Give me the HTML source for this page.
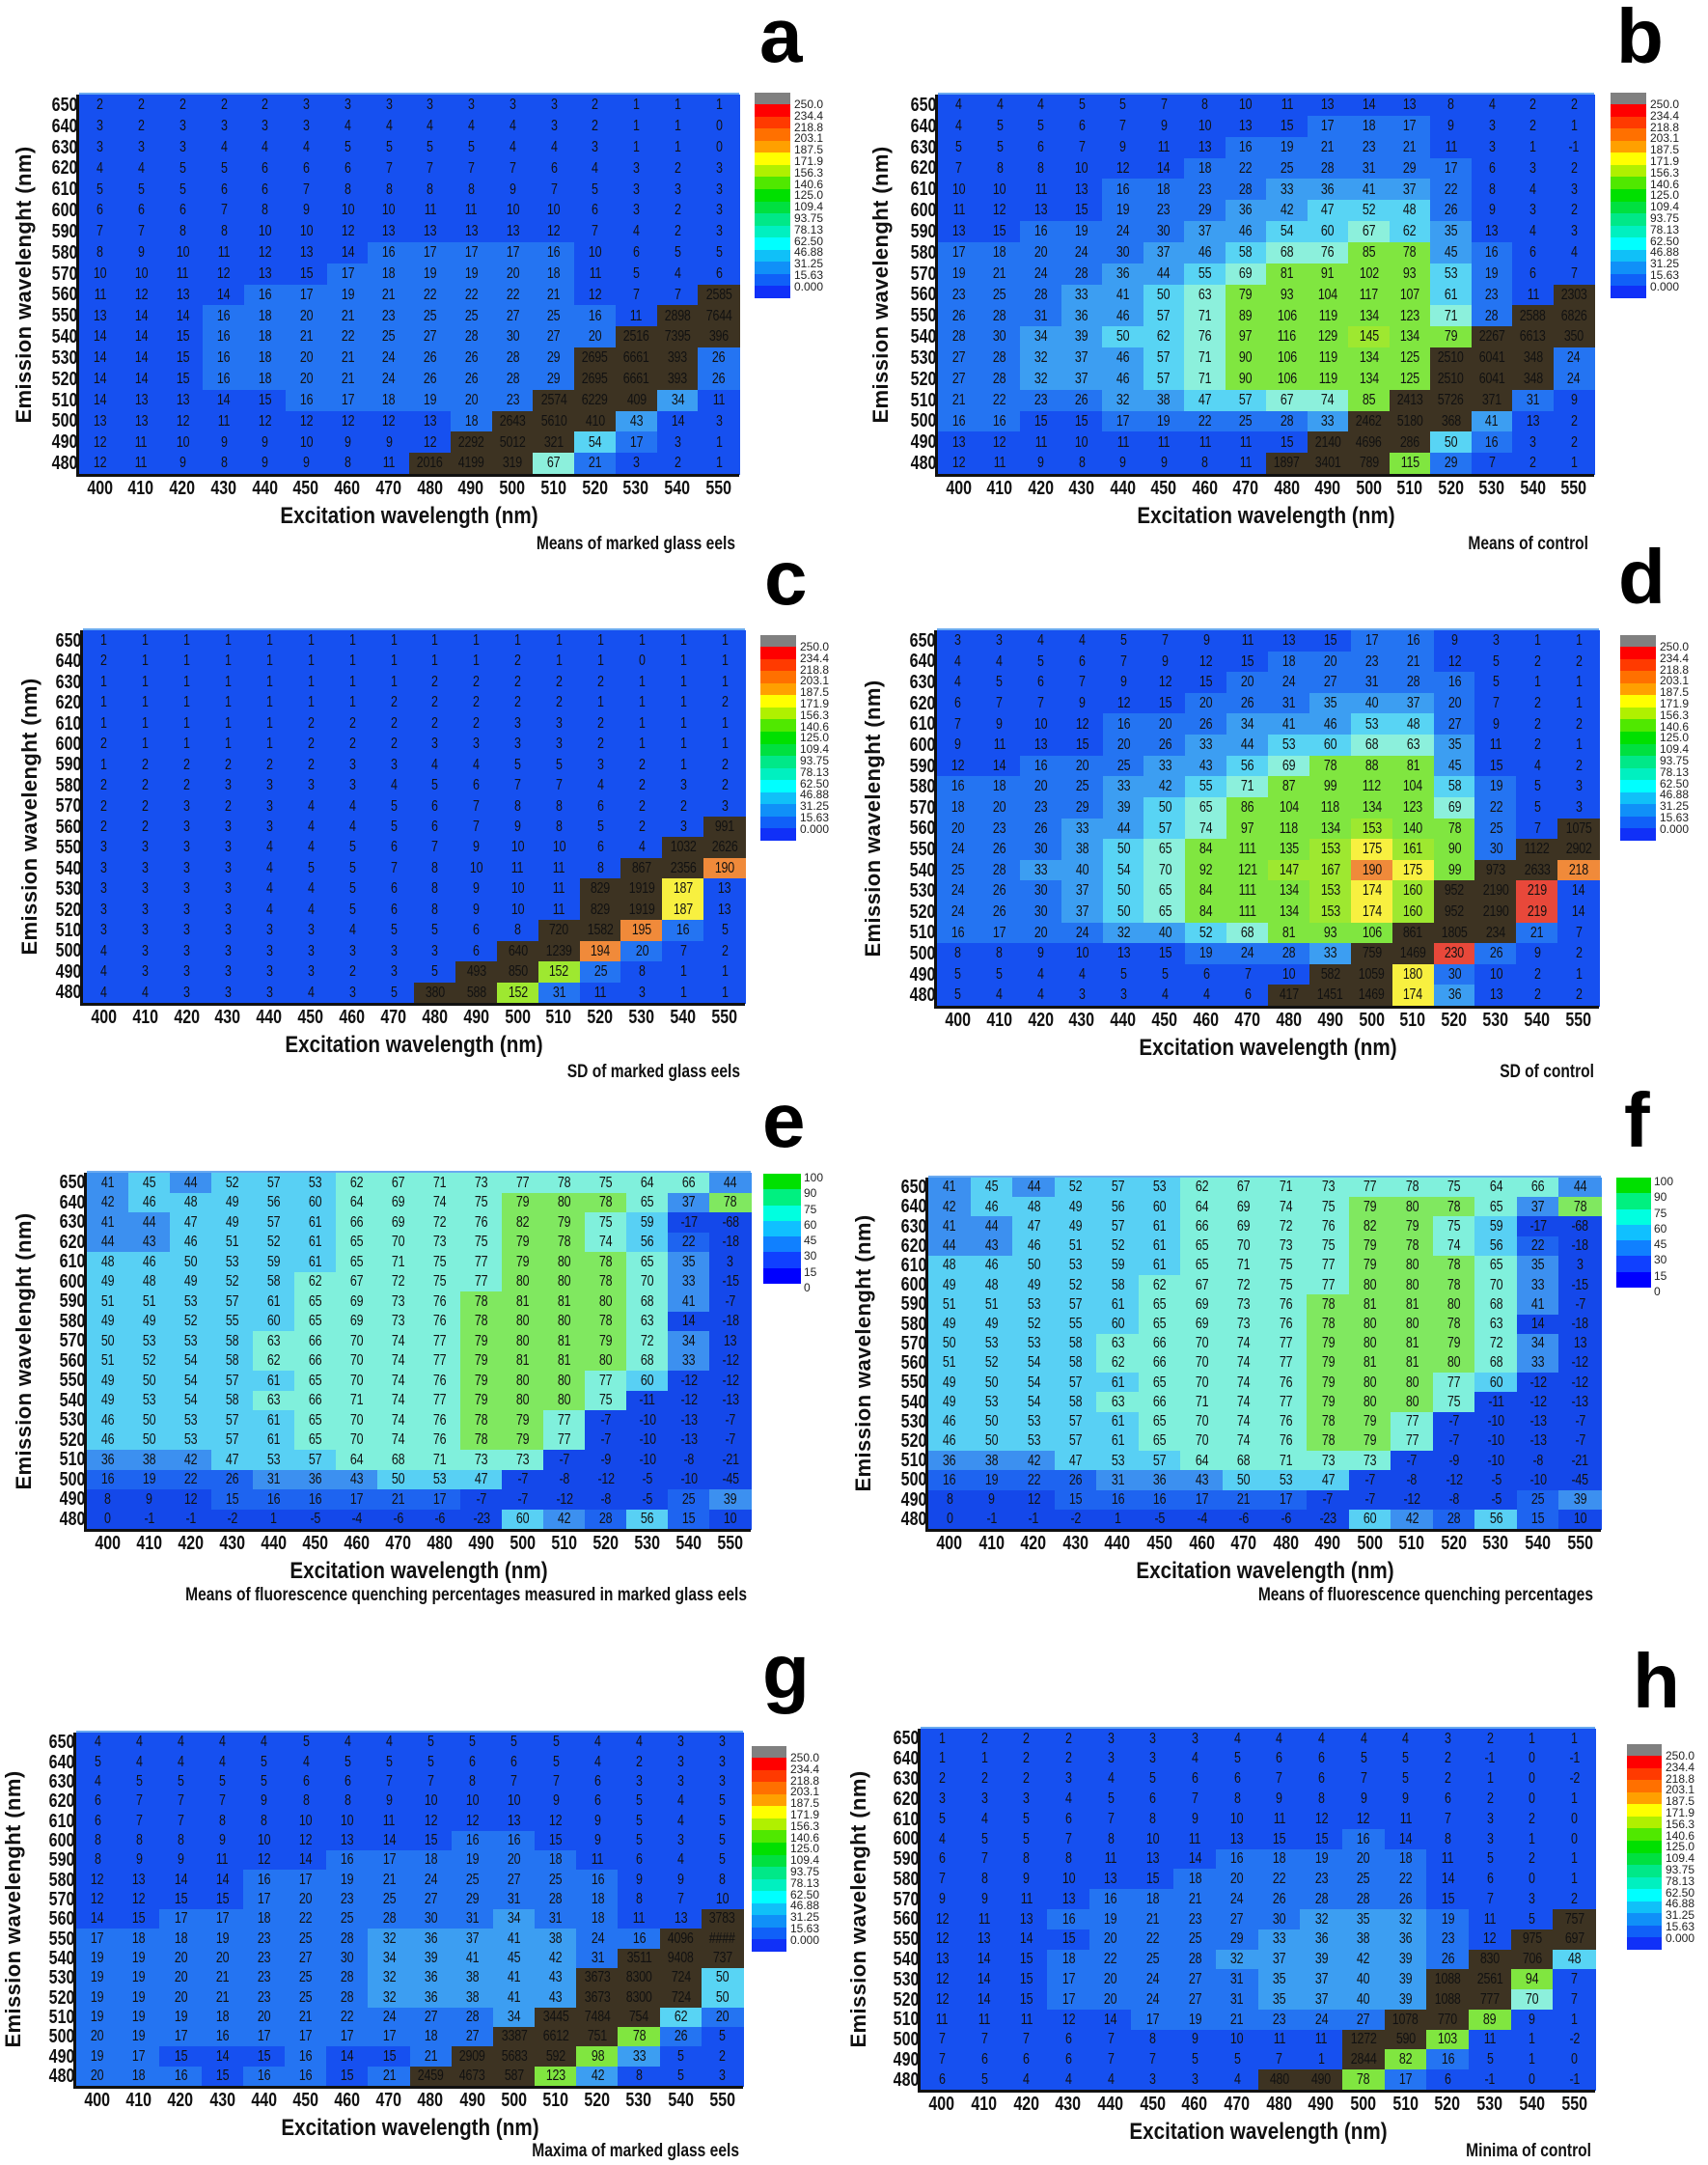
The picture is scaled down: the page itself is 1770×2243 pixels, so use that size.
<!DOCTYPE html>
<html><head><meta charset="utf-8">
<style>
html,body{margin:0;padding:0;background:#fff;}
body{width:1770px;height:2243px;position:relative;overflow:hidden;font-family:"Liberation Sans",sans-serif;}
.a{position:absolute;}
.cell{position:absolute;display:flex;align-items:center;justify-content:center;font-size:16px;color:#111;}
.cell span{display:inline-block;transform:scaleX(0.78);letter-spacing:-0.3px;}
.tk{position:absolute;font-weight:bold;font-size:20px;color:#111;}
.tk span{display:inline-block;transform:scaleX(0.8);}
.lt{position:absolute;font-weight:bold;font-size:80px;line-height:80px;color:#000;}
.ttl{position:absolute;font-weight:bold;font-size:24px;color:#111;white-space:nowrap;}
.cap{position:absolute;font-weight:bold;font-size:19px;color:#111;white-space:nowrap;transform:scaleX(0.82);transform-origin:right center;}
.cbl{position:absolute;font-size:12px;color:#222;line-height:12px;}
</style></head><body>
<script>
var P=[
{L:'a',hm:[82,98,766,491],cb:[782,96,37,213],lx:787,lb:65,cap:'Means of marked glass eels',cy:564,cr:762,yt:-57,q:0,d:`
2 2 2 2 2 3 3 3 3 3 3 3 2 1 1 1
3 2 3 3 3 3 4 4 4 4 4 3 2 1 1 0
3 3 3 4 4 4 5 5 5 5 4 4 3 1 1 0
4 4 5 5 6 6 6 7 7 7 7 6 4 3 2 3
5 5 5 6 6 7 8 8 8 8 9 7 5 3 3 3
6 6 6 7 8 9 10 10 11 11 10 10 6 3 2 3
7 7 8 8 10 10 12 13 13 13 13 12 7 4 2 3
8 9 10 11 12 13 14 16 17 17 17 16 10 6 5 5
10 10 11 12 13 15 17 18 19 19 20 18 11 5 4 6
11 12 13 14 16 17 19 21 22 22 22 21 12 7 7 2585
13 14 14 16 18 20 21 23 25 25 27 25 16 11 2898 7644
14 14 15 16 18 21 22 25 27 28 30 27 20 2516 7395 396
14 14 15 16 18 20 21 24 26 26 28 29 2695 6661 393 26
14 14 15 16 18 20 21 24 26 26 28 29 2695 6661 393 26
14 13 13 14 15 16 17 18 19 20 23 2574 6229 409 34 11
13 13 12 11 12 12 12 12 13 18 2643 5610 410 43 14 3
12 11 10 9 9 10 9 9 12 2292 5012 321 54 17 3 1
12 11 9 8 9 9 8 11 2016 4199 319 67 21 3 2 1`},
{L:'b',hm:[972,98,1652,491],cb:[1669,96,37,213],lx:1675,lb:66,cap:'Means of control',cy:564,cr:1646,yt:-59,q:0,d:`
4 4 4 5 5 7 8 10 11 13 14 13 8 4 2 2
4 5 5 6 7 9 10 13 15 17 18 17 9 3 2 1
5 5 6 7 9 11 13 16 19 21 23 21 11 3 1 -1
7 8 8 10 12 14 18 22 25 28 31 29 17 6 3 2
10 10 11 13 16 18 23 28 33 36 41 37 22 8 4 3
11 12 13 15 19 23 29 36 42 47 52 48 26 9 3 2
13 15 16 19 24 30 37 46 54 60 67 62 35 13 4 3
17 18 20 24 30 37 46 58 68 76 85 78 45 16 6 4
19 21 24 28 36 44 55 69 81 91 102 93 53 19 6 7
23 25 28 33 41 50 63 79 93 104 117 107 61 23 11 2303
26 28 31 36 46 57 71 89 106 119 134 123 71 28 2588 6826
28 30 34 39 50 62 76 97 116 129 145 134 79 2267 6613 350
27 28 32 37 46 57 71 90 106 119 134 125 2510 6041 348 24
27 28 32 37 46 57 71 90 106 119 134 125 2510 6041 348 24
21 22 23 26 32 38 47 57 67 74 85 2413 5726 371 31 9
16 16 15 15 17 19 22 25 28 33 2462 5180 368 41 13 2
13 12 11 10 11 11 11 11 15 2140 4696 286 50 16 3 2
12 11 9 8 9 9 8 11 1897 3401 789 115 29 7 2 1`},
{L:'c',hm:[86,653,772,1039],cb:[788,658,37,213],lx:792,lb:627,cap:'SD of marked glass eels',cy:1111,cr:767,yt:-55,q:0,d:`
1 1 1 1 1 1 1 1 1 1 1 1 1 1 1 1
2 1 1 1 1 1 1 1 1 1 2 1 1 0 1 1
1 1 1 1 1 1 1 1 2 2 2 2 2 1 1 1
1 1 1 1 1 1 1 2 2 2 2 2 1 1 1 2
1 1 1 1 1 2 2 2 2 2 3 3 2 1 1 1
2 1 1 1 1 2 2 2 3 3 3 3 2 1 1 1
1 2 2 2 2 2 3 3 4 4 5 5 3 2 1 2
2 2 2 3 3 3 3 4 5 6 7 7 4 2 3 2
2 2 3 2 3 4 4 5 6 7 8 8 6 2 2 3
2 2 3 3 3 4 4 5 6 7 9 8 5 2 3 991
3 3 3 3 4 4 5 6 7 9 10 10 6 4 1032 2626
3 3 3 3 4 5 5 7 8 10 11 11 8 867 2356 190
3 3 3 3 4 4 5 6 8 9 10 11 829 1919 187 13
3 3 3 3 4 4 5 6 8 9 10 11 829 1919 187 13
3 3 3 3 3 3 4 5 5 6 8 720 1582 195 16 5
4 3 3 3 3 3 3 3 3 6 640 1239 194 20 7 2
4 3 3 3 3 3 2 3 5 493 850 152 25 8 1 1
4 4 3 3 3 4 3 5 380 588 152 31 11 3 1 1`},
{L:'d',hm:[971,653,1657,1042],cb:[1679,658,37,213],lx:1677,lb:626,cap:'SD of control',cy:1111,cr:1652,yt:-66,q:0,d:`
3 3 4 4 5 7 9 11 13 15 17 16 9 3 1 1
4 4 5 6 7 9 12 15 18 20 23 21 12 5 2 2
4 5 6 7 9 12 15 20 24 27 31 28 16 5 1 1
6 7 7 9 12 15 20 26 31 35 40 37 20 7 2 1
7 9 10 12 16 20 26 34 41 46 53 48 27 9 2 2
9 11 13 15 20 26 33 44 53 60 68 63 35 11 2 1
12 14 16 20 25 33 43 56 69 78 88 81 45 15 4 2
16 18 20 25 33 42 55 71 87 99 112 104 58 19 5 3
18 20 23 29 39 50 65 86 104 118 134 123 69 22 5 3
20 23 26 33 44 57 74 97 118 134 153 140 78 25 7 1075
24 26 30 38 50 65 84 111 135 153 175 161 90 30 1122 2902
25 28 33 40 54 70 92 121 147 167 190 175 99 973 2633 218
24 26 30 37 50 65 84 111 134 153 174 160 952 2190 219 14
24 26 30 37 50 65 84 111 134 153 174 160 952 2190 219 14
16 17 20 24 32 40 52 68 81 93 106 861 1805 234 21 7
8 8 9 10 13 15 19 24 28 33 759 1469 230 26 9 2
5 5 4 4 5 5 6 7 10 582 1059 180 30 10 2 1
5 4 4 3 3 4 4 6 417 1451 1469 174 36 13 2 2`},
{L:'e',hm:[90,1215,778,1584],cb:[791,1216,39,114],lx:790,lb:1189,cap:'Means of fluorescence quenching percentages measured in marked glass eels',cy:1653,cr:774,yt:-65,q:1,d:'Q'},
{L:'f',hm:[962,1220,1659,1584],cb:[1675,1220,36,114],lx:1683,lb:1189,cap:'Means of fluorescence quenching percentages',cy:1653,cr:1651,yt:-67,q:1,d:'Q'},
{L:'g',hm:[79,1795,770,2161],cb:[779,1809,36,213],lx:790,lb:1760,cap:'Maxima of marked glass eels',cy:2229,cr:766,yt:-65,q:0,d:`
4 4 4 4 4 5 4 4 5 5 5 5 4 4 3 3
5 4 4 4 5 4 5 5 5 6 6 5 4 2 3 3
4 5 5 5 5 6 6 7 7 8 7 7 6 3 3 3
6 7 7 7 9 8 8 9 10 10 10 9 6 5 4 5
6 7 7 8 8 10 10 11 12 12 13 12 9 5 4 5
8 8 8 9 10 12 13 14 15 16 16 15 9 5 3 5
8 9 9 11 12 14 16 17 18 19 20 18 11 6 4 5
12 13 14 14 16 17 19 21 24 25 27 25 16 9 9 8
12 12 15 15 17 20 23 25 27 29 31 28 18 8 7 10
14 15 17 17 18 22 25 28 30 31 34 31 18 11 13 3783
17 18 18 19 23 25 28 32 36 37 41 38 24 16 4096 ####
19 19 20 20 23 27 30 34 39 41 45 42 31 3511 9408 737
19 19 20 21 23 25 28 32 36 38 41 43 3673 8300 724 50
19 19 20 21 23 25 28 32 36 38 41 43 3673 8300 724 50
19 19 19 18 20 21 22 24 27 28 34 3445 7484 754 62 20
20 19 17 16 17 17 17 17 18 27 3387 6612 751 78 26 5
19 17 15 14 15 16 14 15 21 2909 5683 592 98 33 5 2
20 18 16 15 16 16 15 21 2459 4673 587 123 42 8 5 3`},
{L:'h',hm:[954,1791,1653,2165],cb:[1686,1807,36,213],lx:1692,lb:1770,cap:'Minima of control',cy:2229,cr:1649,yt:-64,q:0,d:`
1 2 2 2 3 3 3 4 4 4 4 4 3 2 1 1
1 1 2 2 3 3 4 5 6 6 5 5 2 -1 0 -1
2 2 2 3 4 5 6 6 7 6 7 5 2 1 0 -2
3 3 3 4 5 6 7 8 9 8 9 9 6 2 0 1
5 4 5 6 7 8 9 10 11 12 12 11 7 3 2 0
4 5 5 7 8 10 11 13 15 15 16 14 8 3 1 0
6 7 8 8 11 13 14 16 18 19 20 18 11 5 2 1
7 8 9 10 13 15 18 20 22 23 25 22 14 6 0 1
9 9 11 13 16 18 21 24 26 28 28 26 15 7 3 2
12 11 13 16 19 21 23 27 30 32 35 32 19 11 5 757
12 13 14 15 20 22 25 29 33 36 38 36 23 12 975 697
13 14 15 18 22 25 28 32 37 39 42 39 26 830 706 48
12 14 15 17 20 24 27 31 35 37 40 39 1088 2561 94 7
12 14 15 17 20 24 27 31 35 37 40 39 1088 777 70 7
11 11 11 12 14 17 19 21 23 24 27 1078 770 89 9 1
7 7 7 6 7 8 9 10 11 11 1272 590 103 11 1 -2
7 6 6 6 7 7 5 5 7 1 2844 82 16 5 1 0
6 5 4 4 4 3 3 4 480 490 78 17 6 -1 0 -1`}
];
var Q=`
41 45 44 52 57 53 62 67 71 73 77 78 75 64 66 44
42 46 48 49 56 60 64 69 74 75 79 80 78 65 37 78
41 44 47 49 57 61 66 69 72 76 82 79 75 59 -17 -68
44 43 46 51 52 61 65 70 73 75 79 78 74 56 22 -18
48 46 50 53 59 61 65 71 75 77 79 80 78 65 35 3
49 48 49 52 58 62 67 72 75 77 80 80 78 70 33 -15
51 51 53 57 61 65 69 73 76 78 81 81 80 68 41 -7
49 49 52 55 60 65 69 73 76 78 80 80 78 63 14 -18
50 53 53 58 63 66 70 74 77 79 80 81 79 72 34 13
51 52 54 58 62 66 70 74 77 79 81 81 80 68 33 -12
49 50 54 57 61 65 70 74 76 79 80 80 77 60 -12 -12
49 53 54 58 63 66 71 74 77 79 80 80 75 -11 -12 -13
46 50 53 57 61 65 70 74 76 78 79 77 -7 -10 -13 -7
46 50 53 57 61 65 70 74 76 78 79 77 -7 -10 -13 -7
36 38 42 47 53 57 64 68 71 73 73 -7 -9 -10 -8 -21
16 19 22 26 31 36 43 50 53 47 -7 -8 -12 -5 -10 -45
8 9 12 15 16 16 17 21 17 -7 -7 -12 -8 -5 25 39
0 -1 -1 -2 1 -5 -4 -6 -6 -23 60 42 28 56 15 10`;
function c250(s){var v=s=='####'?1e9:parseFloat(s);
 if(v>=232)return'#3d3322';if(v>=219)return'#e8483a';if(v>=187.6)return'#f08a3a';if(v>=171.9)return'#f8f040';
 if(v>=140.6)return'#9ee830';if(v>=78)return'#80e640';if(v>=62.5)return'#8cf0dc';if(v>=46.9)return'#58d4f4';
 if(v>=31.25)return'#3c9ef2';if(v>=15.63)return'#2474f2';return'#1650f0';}
function cq(s,r,c){var v=parseFloat(s);
 if(r==0&&v>=78)return'#80f0dc';
 if(v>=78)return'#80e860';if(v>=62)return'#80f0dc';if(v>=45)return'#58d0f4';if(v>=30)return'#3c90f0';if(v>=15)return'#1e64f0';return'#1448ea';}
var H='';
function box(x,y,w,h,st,cls,txt){H+='<div class="'+(cls||'a')+'" style="left:'+x+'px;top:'+y+'px;width:'+w+'px;height:'+h+'px;'+(st||'')+'">'+(txt||'')+'</div>';}
var XT=[400,410,420,430,440,450,460,470,480,490,500,510,520,530,540,550];
var YT=[650,640,630,620,610,600,590,580,570,560,550,540,530,520,510,500,490,480];
var C250=['#808080','#ff0000','#ff3a00','#ff7000','#ffa000','#ffff00','#b0f000','#50e800','#00e000','#00e040','#00e888','#00f0c0','#00ffff','#10c0f8','#1090f8','#1060f8','#1030f8','#0000ff'];
var L250=['250.0','234.4','218.8','203.1','187.5','171.9','156.3','140.6','125.0','109.4','93.75','78.13','62.50','46.88','31.25','15.63','0.000'];
var CQ=['#00e000','#00f080','#00ffe0','#10c0ff','#1080ff','#1040ff','#0000ff'];
var LQ=['100','90','75','60','45','30','15','0'];
P.forEach(function(p){
 var d=(p.d=='Q'?Q:p.d).trim().split('\n').map(function(r){return r.trim().split(/\s+/);});
 var x0=p.hm[0],y0=p.hm[1],x1=p.hm[2],y1=p.hm[3],cw=(x1-x0)/16,ch=(y1-y0)/18;
 box(x0,y0-2,x1-x0,2,'background:#6aaaf0;');
 for(var r=0;r<18;r++)for(var c=0;c<16;c++){
  var s=d[r][c];
  box((x0+c*cw).toFixed(2),(y0+r*ch).toFixed(2),(cw+0.6).toFixed(2),(ch+0.6).toFixed(2),'background:'+(p.q?cq(s,r,c):c250(s))+';','cell','<span>'+s+'</span>');
 }
 box(x0-3,y0,3,y1-y0+3,'background:#111;');
 box(x0-3,y1,x1-x0+3,3,'background:#111;');
 for(var r=0;r<18;r++)H+='<div class="tk" style="left:'+(x0-48)+'px;width:46px;text-align:right;top:'+(y0+r*ch+ch/2-11).toFixed(1)+'px;line-height:22px;"><span style="transform-origin:right center">'+YT[r]+'</span></div>';
 for(var c=0;c<16;c++)H+='<div class="tk" style="left:'+(x0+c*cw+cw/2-22).toFixed(1)+'px;width:44px;text-align:center;top:'+(y1+4)+'px;line-height:22px;"><span>'+XT[c]+'</span></div>';
 H+='<div class="ttl" style="left:'+((x0+x1)/2-200)+'px;width:400px;text-align:center;top:'+(y1+31)+'px;line-height:26px;transform:scaleX(0.86);">Excitation wavelength (nm)</div>';
 var ym=(y0+y1)/2;
 H+='<div class="ttl" style="left:'+(x0+p.yt-200)+'px;width:400px;text-align:center;top:'+(ym-13)+'px;line-height:26px;transform:rotate(-90deg);font-size:22px;letter-spacing:0.4px;">Emission wavelenght (nm)</div>';
 H+='<div class="cap" style="left:'+(p.cr-800)+'px;width:800px;text-align:right;top:'+(p.cy-11)+'px;line-height:22px;">'+p.cap+'</div>';
 H+='<div class="lt" style="left:'+p.lx+'px;top:'+(p.lb-68)+'px;">'+p.L+'</div>';
 var cb=p.cb;
 if(!p.q){
  box(cb[0],cb[1],cb[2],12,'background:'+C250[0]+';');
  var sh=(cb[3]-12)/16;
  for(var i=1;i<17;i++)box(cb[0],(cb[1]+12+(i-1)*sh).toFixed(1),cb[2],(sh+0.5).toFixed(1),'background:'+C250[i]+';');
  for(var i=0;i<17;i++)H+='<div class="cbl" style="left:'+(cb[0]+cb[2]+4)+'px;top:'+(cb[1]+6+i*11.8).toFixed(1)+'px;">'+L250[i]+'</div>';
 }else{
  var sh=cb[3]/7;
  for(var i=0;i<7;i++)box(cb[0],(cb[1]+i*sh).toFixed(1),cb[2],(sh+0.5).toFixed(1),'background:'+CQ[i]+';');
  for(var i=0;i<8;i++)H+='<div class="cbl" style="left:'+(cb[0]+cb[2]+3)+'px;top:'+(cb[1]+i*sh-2).toFixed(1)+'px;">'+LQ[i]+'</div>';
 }
});
document.write(H);
</script>
</body></html>
